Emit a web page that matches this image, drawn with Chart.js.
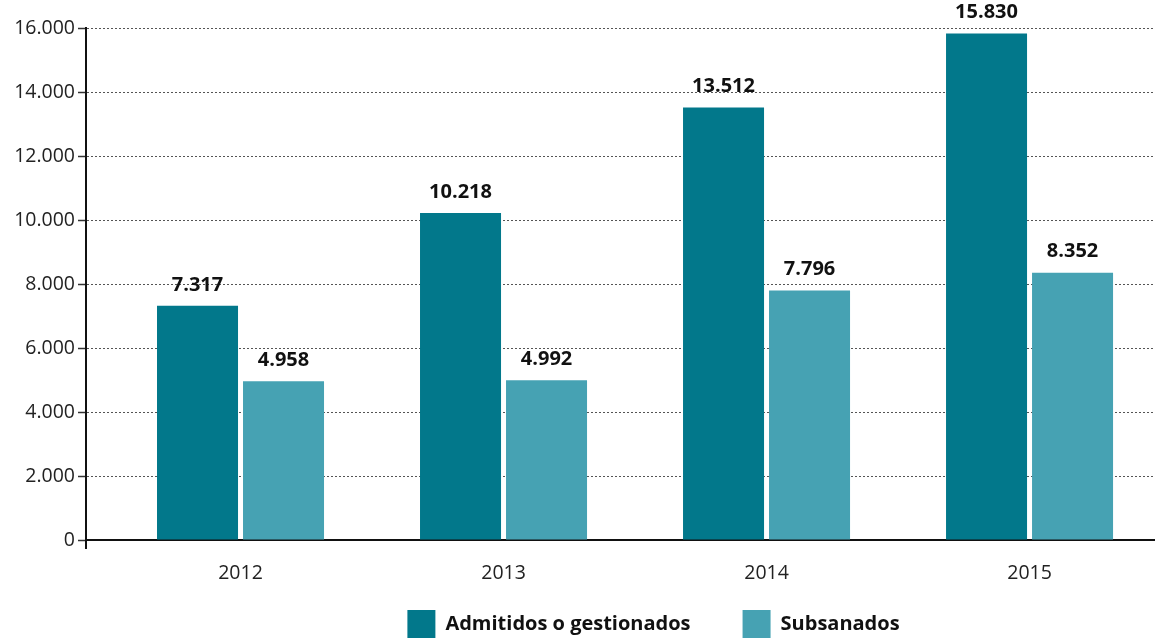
<!DOCTYPE html>
<html>
<head>
<meta charset="utf-8">
<script src="https://cdn.jsdelivr.net/npm/chart.js@4"></script>
<style>
html, body { margin: 0; padding: 0; background: #fff; overflow: hidden; }
#wrap { width: 1155px; height: 639px; }
</style>
</head>
<body>
<div id="wrap"><canvas id="chart"></canvas></div>
<script>
const years = ['2012', '2013', '2014', '2015'];
const admitidos = [7317, 10218, 13512, 15830];
const subsanados = [4958, 4992, 7796, 8352];
const seriesNames = ['Admitidos o gestionados', 'Subsanados'];
const yMax = 16000;
const yStep = 2000;

function fmt(n) {
    return String(n).replace(/\B(?=(\d{3})+(?!\d))/g, '.');
}

// numbers above each bar
const valueLabels = {
    id: 'valueLabels',
    afterDatasetsDraw(chart) {
        const ctx = chart.ctx;
        ctx.save();
        ctx.font = 'bold 20px "Open Sans"';
        ctx.fillStyle = '#111';
        ctx.textAlign = 'center';
        ctx.textBaseline = 'bottom';
        chart.data.datasets.forEach((ds, di) => {
            chart.getDatasetMeta(di).data.forEach((bar, i) => {
                ctx.fillText(fmt(ds.data[i].y), bar.x, bar.y - 11);
            });
        });
        ctx.restore();
    }
};

// move the legend down/right, and draw the little stub of the y axis below zero
const legendPlacement = {
    id: 'legendPlacement',
    afterLayout(chart) {
        const lg = chart.legend;
        lg.top = 558;
        lg.bottom = chart.height;
        lg.left += 33;
        lg.right += 33;
    },
    afterDraw(chart) {
        const { ctx, chartArea } = chart;
        ctx.save();
        ctx.strokeStyle = '#111';
        ctx.lineWidth = 2;
        ctx.beginPath();
        ctx.moveTo(chartArea.left, chartArea.bottom);
        ctx.lineTo(chartArea.left, chartArea.bottom + 9);
        ctx.stroke();
        ctx.restore();
    }
};

const toPoints = arr => arr.map((v, i) => ({ x: i, y: v }));

new Chart(document.getElementById('chart'), {
    type: 'bar',
    data: {
        datasets: [{
            label: seriesNames[0],
            data: toPoints(admitidos),
            backgroundColor: '#02788B',
            borderWidth: 0,
            categoryPercentage: 0.654,
            barPercentage: 0.942
        }, {
            label: seriesNames[1],
            data: toPoints(subsanados),
            backgroundColor: '#46A2B3',
            borderWidth: 0,
            categoryPercentage: 0.654,
            barPercentage: 0.942
        }]
    },
    options: {
        responsive: true,
        maintainAspectRatio: false,
        animation: false,
        layout: { padding: { top: 28, right: 0, left: 0, bottom: 0 } },
        scales: {
            x: {
                type: 'linear',
                offset: false,
                min: -0.5875,
                max: 3.477,
                afterBuildTicks: s => { s.ticks = years.map((y, i) => ({ value: i })); },
                afterFit: s => { s.height = 50; },
                grid: { display: false, drawTicks: false, offset: false },
                border: { display: true, color: '#111', width: 2 },
                ticks: {
                    padding: 22,
                    color: '#222',
                    font: { family: 'Open Sans', size: 19.5 },
                    callback: v => years[v] ?? ''
                }
            },
            y: {
                min: 0,
                max: yMax,
                afterFit: s => { s.width = 86; },
                grid: {
                    color: '#555',
                    lineWidth: 1,
                    tickLength: 8,
                    tickColor: '#333',
                    tickWidth: 1.5,
                    tickBorderDash: []
                },
                border: { display: true, color: '#111', width: 2, dash: [2, 2] },
                ticks: {
                    stepSize: yStep,
                    padding: 3,
                    color: '#222',
                    font: { family: 'Open Sans', size: 19.5 },
                    callback: v => fmt(v)
                }
            }
        },
        plugins: {
            tooltip: { enabled: false },
            legend: {
                position: 'bottom',
                fullSize: false,
                maxHeight: 49,
                labels: {
                    boxWidth: 28,
                    boxHeight: 28,
                    padding: 52,
                    color: '#111',
                    font: { family: 'Open Sans', size: 20, weight: 'bold' }
                }
            }
        }
    },
    plugins: [valueLabels, legendPlacement]
});
</script>
</body>
</html>
